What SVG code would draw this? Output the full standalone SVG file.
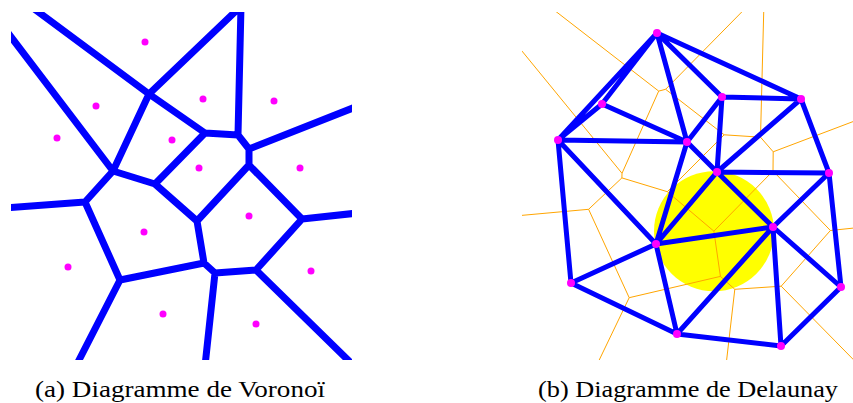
<svg xmlns="http://www.w3.org/2000/svg" width="853" height="403" viewBox="0 0 853 403">
<style>
.vor{stroke:#0000ff;stroke-width:7;stroke-linecap:round;fill:none}
.del{stroke:#0000ff;stroke-width:5;stroke-linecap:round;fill:none}
.thin{stroke:#ffa500;stroke-width:1;fill:none}
.site{fill:#ff00ff}
.cap{font-family:"Liberation Serif","DejaVu Serif",serif;font-size:23.5px;fill:#000}
</style>
<defs>
<clipPath id="clipL"><rect x="11" y="12" width="341" height="348"/></clipPath>
<clipPath id="clipR"><rect x="522" y="12" width="331" height="348"/></clipPath>
</defs>
<rect width="853" height="403" fill="#fff"/>

<g id="voronoi-connectors" clip-path="url(#clipL)">
<path class="vor" d="M33,8 L149,94 M5,29 L113,171 M149,94 L113,171 M149,94 L238,9 M149,94 L205,133 M205,133 L238,135 M238,135 L241,6 M238,135 L249,149 M249,149 L249,165 M249,149 L358,106 M249,165 L197,221 M249,165 L302,219 M302,219 L358,213 M302,219 L256,270 M256,270 L352,364 M256,270 L215,273 M215,273 L204,263 M204,263 L197,221 M215,273 L205,366 M204,263 L120,280 M120,280 L76,366 M120,280 L85,202 M85,202 L4,208 M85,202 L113,171 M113,171 L155,184 M155,184 L205,133 M155,184 L197,221"/>
</g>
<g id="voronoi-sites">
<g id="s1"><circle class="site" cx="145" cy="42" r="3.5"/></g>
<g id="s2"><circle class="site" cx="96" cy="106" r="3.5"/></g>
<g id="s3"><circle class="site" cx="57" cy="138" r="3.5"/></g>
<g id="s4"><circle class="site" cx="172" cy="140" r="3.5"/></g>
<g id="s5"><circle class="site" cx="203" cy="99" r="3.5"/></g>
<g id="s6"><circle class="site" cx="274" cy="101" r="3.5"/></g>
<g id="s7"><circle class="site" cx="199" cy="168" r="3.5"/></g>
<g id="s8"><circle class="site" cx="300" cy="168" r="3.5"/></g>
<g id="s9"><circle class="site" cx="144" cy="232" r="3.5"/></g>
<g id="s10"><circle class="site" cx="68" cy="267" r="3.5"/></g>
<g id="s11"><circle class="site" cx="163" cy="314" r="3.5"/></g>
<g id="s12"><circle class="site" cx="249" cy="216" r="3.5"/></g>
<g id="s13"><circle class="site" cx="311" cy="271" r="3.5"/></g>
<g id="s14"><circle class="site" cx="256" cy="324" r="3.5"/></g>
</g>

<g id="circumcircle"><circle cx="714" cy="231.2" r="60" fill="#ffff00"/></g>

<g id="dual-voronoi" clip-path="url(#clipR)">
<path class="thin" d="M374.8,-128.8 L658.7,91.1 M374.8,-128.8 L622,173.3 M658.7,91.1 L622,173.3 M658.7,91.1 L665.6,89.3 M665.6,89.3 L764.3,-10.9 M622,173.3 L621.9,177.9 M665.6,89.3 L724.2,134.8 M764.3,-10.9 L760.5,137.2 M724.2,134.8 L760.5,137.2 M724.2,134.8 L667.3,191.7 M760.5,137.2 L773.2,151.8 M667.3,191.7 L621.9,177.9 M773.2,151.8 L773,171 M667.3,191.7 L713.9,231.2 M773,171 L713.9,231.2 M621.9,177.9 L588.6,209.3 M773,171 L830.4,230.5 M713.9,231.2 L720.4,276.4 M588.6,209.3 L629.2,297.7 M629.2,297.7 L720.4,276.4 M720.4,276.4 L734.8,289.3 M734.8,289.3 L781.2,286.2 M830.4,230.5 L781.2,286.2 M773.2,151.8 L921.2,95.8 M830.4,230.5 L944.4,218.5 M781.2,286.2 L899.2,406.2 M734.8,289.3 L722.8,393.3 M629.2,297.7 L578.2,403.7 M588.6,209.3 L445.6,222.3"/>
</g>

<g id="delaunay-connectors">
<path class="del" d="M657,33 L602,104 M657,33 L558,140 M602,104 L558,140 M657,33 L722,97 M657,33 L801,99 M657,33 L687,142 M602,104 L687,142 M558,140 L687,142 M722,97 L801,99 M722,97 L687,142 M722,97 L717,172 M801,99 L717,172 M801,99 L829,173 M687,142 L717,172 M687,142 L656,244 M717,172 L829,173 M717,172 L656,244 M717,172 L773,227 M829,173 L773,227 M829,173 L841,287 M558,140 L656,244 M558,140 L571,283 M656,244 L571,283 M656,244 L677,334 M656,244 L773,227 M571,283 L677,334 M677,334 L773,227 M677,334 L781,346 M773,227 L781,346 M773,227 L841,287 M841,287 L781,346"/>
</g>
<g id="delaunay-points">
<g id="pA"><circle class="site" cx="657" cy="33" r="4"/></g>
<g id="pB"><circle class="site" cx="602" cy="104" r="4"/></g>
<g id="pC"><circle class="site" cx="558" cy="140" r="4"/></g>
<g id="pD"><circle class="site" cx="722" cy="97" r="4"/></g>
<g id="pE"><circle class="site" cx="801" cy="99" r="4"/></g>
<g id="pF"><circle class="site" cx="687" cy="142" r="4"/></g>
<g id="pG"><circle class="site" cx="717" cy="172" r="4"/></g>
<g id="pH"><circle class="site" cx="829" cy="173" r="4"/></g>
<g id="pI"><circle class="site" cx="656" cy="244" r="4"/></g>
<g id="pJ"><circle class="site" cx="571" cy="283" r="4"/></g>
<g id="pK"><circle class="site" cx="677" cy="334" r="4"/></g>
<g id="pL"><circle class="site" cx="773" cy="227" r="4"/></g>
<g id="pM"><circle class="site" cx="841" cy="287" r="4"/></g>
<g id="pN"><circle class="site" cx="781" cy="346" r="4"/></g>
</g>

<g id="captions">
<text class="cap" x="35" y="396.5" textLength="290" lengthAdjust="spacingAndGlyphs">(a) Diagramme de Voronoï</text>
<text class="cap" x="538" y="396.5" textLength="300" lengthAdjust="spacingAndGlyphs">(b) Diagramme de Delaunay</text>
</g>
</svg>
